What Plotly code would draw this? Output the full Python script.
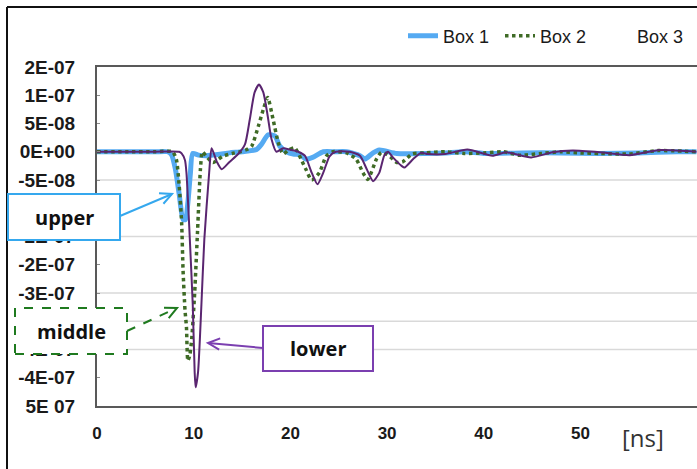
import math
import plotly.graph_objects as go

# ---------------- data ----------------
t_box1 = [0, 3, 6, 7.3, 7.7, 8.1, 8.5, 8.9, 9.15, 9.4, 9.65, 9.9, 10.5, 11.3, 12.5, 13.7, 15, 16.5, 17, 17.7,
          18.4, 18.9, 19.6, 20.3, 21.0, 21.6, 22.3, 23.4, 24.6, 25.8, 27.2, 27.7, 28.55, 29.2, 31, 34, 36, 38,
          40, 44, 48, 52, 56, 60, 62]
v_box1 = [0, 0, 0, 0, -0.5e-8, -3e-8, -7.5e-8, -1.2e-7, -1.2e-7, -9e-8, -4e-8, -0.3e-8, -0.6e-8, -0.7e-8,
          -0.5e-8, -0.2e-8, 0, 0.4e-8, 1.3e-8, 3e-8, 2.8e-8, 1e-8, 0, -0.4e-8, -0.5e-8, -1.3e-8, -1e-8,
          0, 0, 0, -0.7e-8, -1.3e-8, -0.2e-8, 0.3e-8, -0.3e-8, -0.3e-8, -0.2e-8, 0, -0.3e-8, -0.2e-8,
          -0.2e-8, -0.3e-8, -0.2e-8, 0, 0]

t_box2 = [0, 3, 6, 7.8, 8.2, 8.5, 8.75, 8.9, 9.1, 9.25, 9.4, 9.6, 9.8, 10.1, 10.4, 10.7, 10.9, 11.3, 12.0,
          13.0, 14.0, 14.8, 15.5, 16.0, 16.7, 17.2, 17.65, 18.2, 18.75, 19.25, 19.8, 20.45, 21.1, 21.6,
          22.2, 23.0, 23.7, 24.4, 25.8, 26.8, 27.5, 28.0, 28.9, 29.4, 30.0, 30.6, 31.0, 31.6, 32.6, 34,
          36, 38, 40, 42, 43.7, 46, 48, 50, 52, 55, 58, 62]
v_box2 = [0, 0, 0, 0, -1.3e-8, -6e-8, -1.25e-7, -2.1e-7, -2.8e-7, -3.1e-7, -3.7e-7, -3.6e-7, -3.3e-7,
          -2.5e-7, -1.4e-7, -3e-8, 0, -0.8e-8, -1.9e-8, -0.8e-8, -0.3e-8, 0, 0.4e-8, 1e-8, 4.6e-8,
          7.5e-8, 9.6e-8, 5.8e-8, 1.6e-8, -0.4e-8, 0.3e-8, 0.7e-8, -1.3e-8, -3.1e-8, -5e-8, -3.7e-8,
          -0.8e-8, 0, -0.2e-8, -1.3e-8, -3.7e-8, -4.9e-8, -1.3e-8, -0.1e-8, -0.5e-8, -1.3e-8, -1.9e-8,
          -1.8e-8, -0.4e-8, -0.2e-8, 0, -0.3e-8, -0.2e-8, 0, -0.6e-8, -0.3e-8, 0, -0.2e-8, -0.3e-8,
          -0.4e-8, 0.2e-8, 0]

t_box3 = [0, 3, 6, 8.5, 8.75, 9.1, 9.25, 9.6, 9.9, 10.1, 10.2, 10.45, 10.8, 11.1, 11.6, 11.85, 12.4, 12.9,
          13.7, 14.6, 15.3, 15.8, 16.3, 16.75, 17.2, 17.6, 18.05, 18.55, 19.25, 19.9, 20.8, 21.5, 22.2,
          22.8, 23.4, 24.05, 24.7, 26.1, 27.2, 27.9, 28.55, 29.2, 29.7, 30.1, 30.6, 31.5, 31.8, 32.7,
          33.5, 34.2, 36, 38.3, 40.9, 42.3, 44.9, 47.1, 49.2, 52, 55.1, 58.2, 62]
v_box3 = [0, 0, 0, 0, -0.3e-8, -1.5e-8, -3.7e-8, -1.55e-7, -2.7e-7, -3.9e-7, -4.17e-7, -3.9e-7, -2.7e-7,
          -1.55e-7, -3.7e-8, 0.6e-8, -1.8e-8, -3.1e-8, -1.8e-8, -0.4e-8, 1.3e-8, 5.7e-8, 1.05e-7,
          1.19e-7, 1.05e-7, 6.9e-8, 2.2e-8, 0, 0.6e-8, 0.4e-8, 0, -0.7e-8, -3.7e-8, -5.75e-8, -3.7e-8,
          -0.8e-8, 0, 0, -0.7e-8, -3.1e-8, -5.2e-8, -3.7e-8, -0.7e-8, 0, -1e-8, -2.5e-8, -2.8e-8,
          -1.3e-8, -0.2e-8, -0.4e-8, -0.4e-8, 0.4e-8, -0.7e-8, -0.1e-8, -1e-8, -0.1e-8, 0.2e-8, -0.1e-8,
          -0.6e-8, 0.3e-8, 0]

series_names = ["Box 1", "Box 2", "Box 3"]

x_tick_vals = [0, 10, 20, 30, 40, 50]
x_tick_text = ["0", "10", "20", "30", "40", "50"]
y_tick_vals = [1.5e-7, 1e-7, 5e-8, 0, -5e-8, -1e-7, -1.5e-7, -2e-7, -2.5e-7, -3e-7, -3.5e-7, -4e-7, -4.5e-7]
y_tick_text = ["2E-07", "1E-07", "5E-08", "0E+00", "-5E-08", "-1E-07", "-2E-07", "-2E-07", "-3E-07",
               "-3E-07", "-4E-07", "-4E-07", "5E 07"]
grid_levels = [-5e-8, -1.5e-7, -2.5e-7, -3e-7, -3.5e-7]
x_range = [0, 62.05]
y_range = [-4.5e-7, 1.5e-7]

# ---------------- layout geometry ----------------
W_FIG, H_FIG = 697, 469
ML, MT, MR, MB = 97, 67, 0, 63
PW = W_FIG - ML - MR
PH = H_FIG - MT - MB


def px(xp):
    return (xp - ML) / PW


def py(yp):
    return (H_FIG - MB - yp) / PH


C_BLUE = "#55aaf2"
C_GREEN = "#3f6b26"
C_PURPLE = "#5a2570"

fig = go.Figure()
fig.add_trace(go.Scatter(x=t_box1, y=v_box1, name=series_names[0], mode="lines",
                         line=dict(color=C_BLUE, width=5, shape="spline", smoothing=0.6)))
fig.add_trace(go.Scatter(x=t_box2, y=v_box2, name=series_names[1], mode="lines",
                         line=dict(color=C_GREEN, width=3.5, dash="dot", shape="spline", smoothing=0.6)))
fig.add_trace(go.Scatter(x=t_box3, y=v_box3, name=series_names[2], mode="lines", showlegend=False,
                         line=dict(color=C_PURPLE, width=2, shape="spline", smoothing=0.6)))
# legend entry for Box 3 (its sample is blank in the reference)
fig.add_trace(go.Scatter(x=[None], y=[None], name=series_names[2], mode="lines",
                         line=dict(color="rgba(255,255,255,0)", width=3)))

shapes = []
for g in grid_levels:
    shapes.append(dict(type="line", xref="paper", yref="y", x0=0, x1=1, y0=g, y1=g,
                       line=dict(color="#d9d9d9", width=1.5), layer="below"))

# outer frame lines (left / top)
shapes.append(dict(type="line", xref="paper", yref="paper", x0=px(7), x1=px(7), y0=py(480), y1=py(7),
                   line=dict(color="#111111", width=2), layer="above"))
shapes.append(dict(type="line", xref="paper", yref="paper", x0=px(7), x1=px(710), y0=py(7), y1=py(7),
                   line=dict(color="#111111", width=2), layer="above"))

annotations = []


def callout(label, box, start, tip, color, dash):
    x0, y0, x1, y1 = box
    shapes.append(dict(type="rect", xref="paper", yref="paper", x0=px(x0), x1=px(x1), y0=py(y1), y1=py(y0),
                       fillcolor="white", line=dict(color=color, width=2, dash=dash), layer="above"))
    sx, sy = start
    tx, ty = tip
    shapes.append(dict(type="path", xref="paper", yref="paper",
                       path=f"M{px(sx)},{py(sy)} L{px(tx)},{py(ty)}",
                       line=dict(color=color, width=2, dash=dash), layer="above"))
    ang = math.atan2(sy - ty, sx - tx)
    hl = 13
    pts = []
    for d in (0.45, -0.45):
        pts.append((tx + hl * math.cos(ang + d), ty + hl * math.sin(ang + d)))
    shapes.append(dict(type="path", xref="paper", yref="paper",
                       path=f"M{px(pts[0][0])},{py(pts[0][1])} L{px(tx)},{py(ty)} L{px(pts[1][0])},{py(pts[1][1])}",
                       line=dict(color=color, width=2), layer="above"))
    annotations.append(dict(xref="paper", yref="paper", x=px((x0 + x1) / 2), y=py((y0 + y1) / 2),
                            text=f"<b>{label}</b>", showarrow=False,
                            font=dict(family="Open Sans", size=20, color="#111111"),
                            xanchor="center", yanchor="middle"))


callout("upper", (8, 194, 120, 240), (120, 216), (172, 194), "#35a8ee", "solid")
callout("middle", (15, 308, 127, 354), (127, 331), (177, 308), "#1f7a1f", "dash")
callout("lower", (263, 326, 373, 371), (263, 348), (208, 343), "#7b3fb0", "solid")

annotations.append(dict(xref="paper", yref="paper", x=px(643), y=py(437), text="[ns]", showarrow=False,
                        font=dict(family="Open Sans", size=24, color="#333333"),
                        xanchor="center", yanchor="middle"))

fig.update_layout(
    width=W_FIG, height=H_FIG,
    margin=dict(l=ML, r=MR, t=MT, b=MB, pad=0),
    paper_bgcolor="white", plot_bgcolor="white",
    font=dict(family="Liberation Sans, Arial", color="#1a1a1a"),
    showlegend=True,
    legend=dict(orientation="h", x=px(403), xanchor="left", y=py(36), yanchor="middle",
                font=dict(family="Liberation Sans, Arial", size=18, color="#1a1a1a"),
                entrywidth=52, entrywidthmode="pixels",
                bgcolor="rgba(0,0,0,0)", borderwidth=0, traceorder="normal"),
    shapes=shapes,
    annotations=annotations,
    xaxis=dict(range=x_range, tickvals=x_tick_vals, ticktext=x_tick_text, showgrid=False, zeroline=False,
               showline=True, linecolor="#595959", linewidth=2, mirror=True, ticks="",
               ticklabelstandoff=11,
               tickfont=dict(size=17, family="Liberation Sans, Arial", color="#1a1a1a", weight="bold")),
    yaxis=dict(range=y_range, tickvals=y_tick_vals, ticktext=y_tick_text, showgrid=False, zeroline=False,
               showline=True, linecolor="#595959", linewidth=2, ticks="inside", ticklen=3,
               tickcolor="#8c8c8c", ticklabelstandoff=16,
               tickfont=dict(size=19, family="Liberation Sans, Arial", color="#1a1a1a", weight="bold")),
)

fig.write_html("out.html", config={"displayModeBar": False},
               post_script="document.body.style.margin='0';document.body.style.padding='0';")
